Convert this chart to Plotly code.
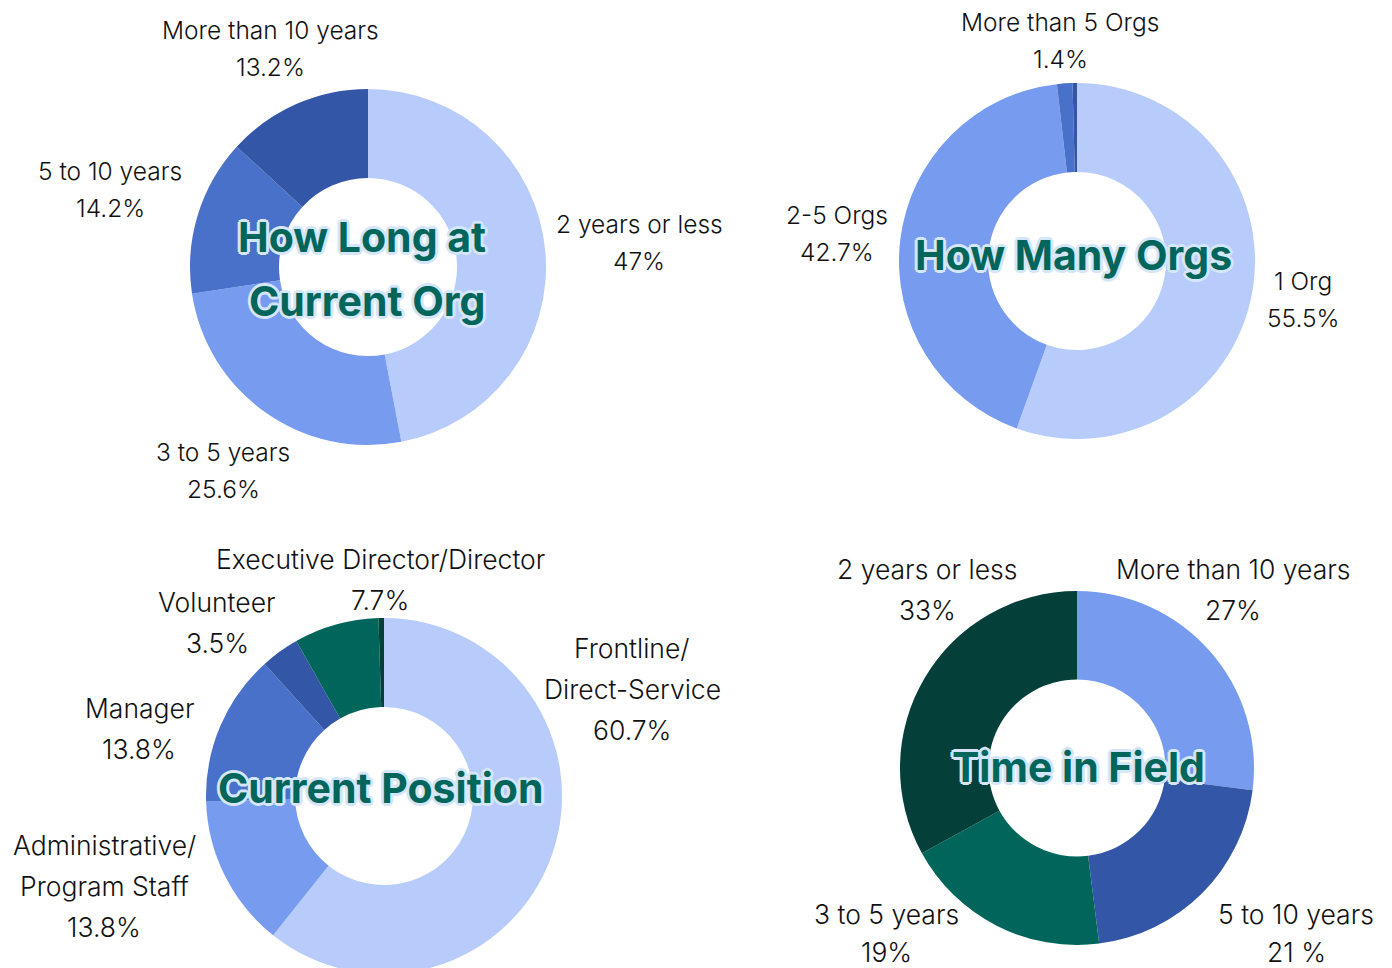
import plotly.graph_objects as go

W, H = 1376, 968
OFF = 8  # page body margin

# ---- data ----
tenure_labels = ["2 years or less", "3 to 5 years", "5 to 10 years", "More than 10 years"]
tenure_values = [47.0, 25.6, 14.2, 13.2]

orgs_labels = ["1 Org", "2-5 Orgs", "More than 5 Orgs", "Other"]
orgs_values = [55.5, 42.7, 1.4, 0.4]

position_labels = ["Frontline/<br>Direct-Service", "Administrative/<br>Program Staff", "Manager",
                   "Volunteer", "Executive Director/Director", "Other"]
position_values = [60.7, 13.8, 13.8, 3.5, 7.7, 0.5]

field_labels = ["More than 10 years", "5 to 10 years", "3 to 5 years", "2 years or less"]
field_values = [27, 21, 19, 33]

field_value_text = ["27%", "21 %", "19%", "33%"]

titles = ["How Long at<br>Current Org", "How Many Orgs", "Current Position", "Time in Field"]

# ---- styles ----
LIGHT = "#B8CCFC"
MED = "#769BEF"
MID = "#4A71C9"
DARK = "#3357A6"
TEAL = "#00655A"
DTEAL = "#043F3A"

tenure_colors = [LIGHT, MED, MID, DARK]
orgs_colors = [LIGHT, MED, MID, DARK]
position_colors = [LIGHT, MED, MID, DARK, TEAL, DTEAL]
field_colors = [MED, DARK, TEAL, DTEAL]

FONT = "Inter"


def px(x):
    return (x - OFF) / W


def py(y):
    return 1 - (y - OFF) / H


def dom(x0, x1, y0, y1):
    return dict(x=[px(x0), px(x1)], y=[max(0, py(y1)), min(1, py(y0))])


fig = go.Figure()
specs = [
    (tenure_labels, tenure_values, tenure_colors, dom(190, 546, 89, 445)),
    (orgs_labels, orgs_values, orgs_colors, dom(899, 1255, 83, 439)),
    (position_labels, position_values, position_colors, dom(206, 562, 618, 974)),
    (field_labels, field_values, field_colors, dom(900, 1254, 591, 945)),
]
for labels, values, colors, d in specs:
    fig.add_trace(go.Pie(
        labels=labels, values=values, hole=0.5, sort=False, direction="clockwise",
        rotation=0, marker=dict(colors=colors, line=dict(width=0)),
        textinfo="none", domain=d, showlegend=False, hoverinfo="label+percent",
    ))

annotations = []


def fmt(v):
    return ("%g" % v) + "%"


def lab(text, x, y, size=24.5, spacing=37):
    for i, ln in enumerate(text.split("<br>")):
        yy = y + i * spacing
        annotations.append(dict(text=ln, x=px(x), y=py(yy), xref="paper", yref="paper",
                                showarrow=False, xanchor="center", yanchor="middle",
                                font=dict(family=FONT, size=size, color="#111111", weight=300)))


tenure_pos = [(639, 224), (223, 452), (110, 171), (270, 30)]
for l, v, (x, y) in zip(tenure_labels, tenure_values, tenure_pos):
    lab(l + "<br>" + fmt(v), x, y)

orgs_pos = [(1303, 281), (837, 215), (1060, 22)]
for l, v, (x, y) in zip(orgs_labels[:3], orgs_values[:3], orgs_pos):
    lab(l + "<br>" + fmt(v), x, y)

position_pos = [(632, 648), (104, 845), (139, 708), (217, 602), (380, 559)]
for l, v, (x, y) in zip(position_labels[:5], position_values[:5], position_pos):
    lab(l + "<br>" + fmt(v), x, y, size=26.5, spacing=41)

field_pos = [(1233, 569, 41), (1296, 914, 38), (886, 914, 38), (927, 569, 41)]
for l, v, (x, y, sp) in zip(field_labels, field_value_text, field_pos):
    lab(l + "<br>" + v, x, y, size=26.5, spacing=sp)

OUT = "#D4E6F7"
shadow = ", ".join(f"{dx}px {dy}px 0 {OUT}" for dx, dy in
                   [(3, 0), (-3, 0), (0, 3), (0, -3), (2, 2), (-2, 2), (2, -2), (-2, -2)])
title_pos = [[(362, 237), (367, 301)], [(1073, 255)], [(380, 788)], [(1078, 767)]]
for t, poss in zip(titles, title_pos):
    for ln, (x, y) in zip(t.split("<br>"), poss):
        annotations.append(dict(text="<b>" + ln + "</b>", x=px(x), y=py(y), xref="paper", yref="paper",
                                showarrow=False, xanchor="center", yanchor="middle",
                                font=dict(family=FONT, size=41, color=TEAL, shadow=shadow)))

fig.update_layout(
    width=W, height=H, margin=dict(l=0, r=0, t=0, b=0),
    paper_bgcolor="white", plot_bgcolor="white",
    annotations=annotations,
)
fig.write_html("out.html")
